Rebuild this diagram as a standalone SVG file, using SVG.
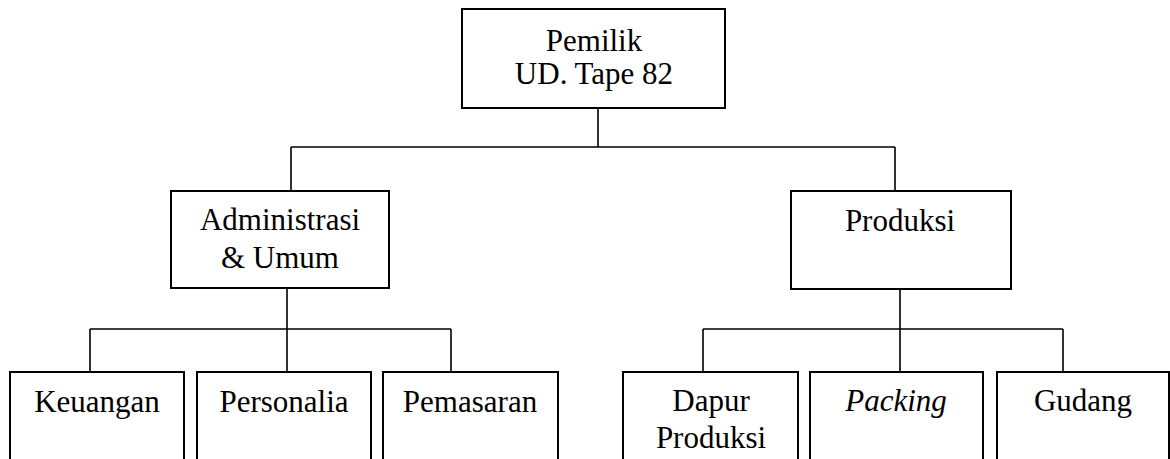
<svg xmlns="http://www.w3.org/2000/svg" width="1170" height="459" viewBox="0 0 1170 459">
<style>
.box{fill:#fff;stroke:#000;stroke-width:2}
.ln{fill:none;stroke:#000;stroke-width:1.6}
text{font-family:'Liberation Serif','DejaVu Serif Condensed','DejaVu Serif',serif;font-stretch:condensed;font-size:31px;fill:#000;text-anchor:middle}
.i{font-style:italic}
</style>
<rect width="1170" height="459" fill="#fff"/>
<g id="connectors">
<path class="ln" d="M598 108V147M291 147H895M291 147V191M895 147V191"/>
<path class="ln" d="M287 288V372M90 329H451M90 329V372M451 329V372"/>
<path class="ln" d="M900 289V372M703 329H1063M703 329V372M1063 329V372"/>
</g>
<g id="pemilik">
<rect class="box" x="462" y="9" width="263" height="99"/>
<text x="594" y="51">Pemilik</text>
<text x="594" y="84">UD. Tape 82</text>
</g>
<g id="administrasi">
<rect class="box" x="171" y="191" width="218" height="97"/>
<text x="280" y="230">Administrasi</text>
<text x="280" y="268">&amp; Umum</text>
</g>
<g id="produksi">
<rect class="box" x="791" y="191" width="220" height="98"/>
<text x="900" y="231">Produksi</text>
</g>
<g id="keuangan">
<rect class="box" x="10" y="372" width="174" height="100"/>
<text x="97" y="412">Keuangan</text>
</g>
<g id="personalia">
<rect class="box" x="197" y="372" width="174" height="100"/>
<text x="284" y="412">Personalia</text>
</g>
<g id="pemasaran">
<rect class="box" x="383" y="372" width="175" height="100"/>
<text x="470" y="412">Pemasaran</text>
</g>
<g id="dapur-produksi">
<rect class="box" x="623" y="372" width="175" height="100"/>
<text x="711" y="411">Dapur</text>
<text x="711" y="448">Produksi</text>
</g>
<g id="packing">
<rect class="box" x="810" y="372" width="173" height="100"/>
<text class="i" x="896" y="411">Packing</text>
</g>
<g id="gudang">
<rect class="box" x="997" y="372" width="172" height="100"/>
<text x="1083" y="411">Gudang</text>
</g>
</svg>
